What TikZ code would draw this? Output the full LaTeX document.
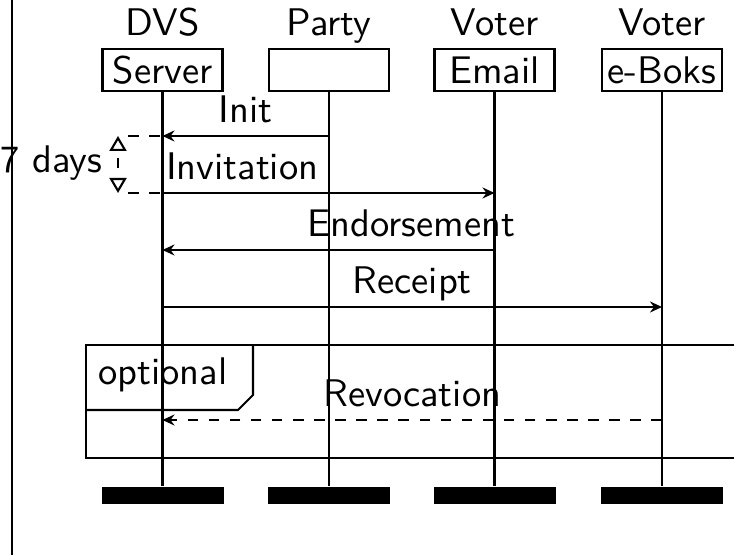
\documentclass[tikz,border=0pt,11pt]{standalone}
\usetikzlibrary{arrows.meta,positioning}

\begin{document}
\begin{tikzpicture}[
    line width=0.6pt,
    font=\sffamily,
    actor/.style={draw, minimum width=1.2cm, minimum height=0.42cm, inner sep=1pt},
    head/.style={anchor=base, inner sep=0pt},
    endbar/.style={fill=black, minimum width=1.22cm, minimum height=0.17cm, inner sep=0pt},
    msg/.style={-{Stealth[length=1.2mm, width=1.1mm, inset=0.4mm]}},
    rmsg/.style={msg, dashed},
    lbl/.style={above, text depth=0pt},
    span/.style={{Triangle[open, length=1.5mm, width=1.7mm]}-{Triangle[open, length=1.5mm, width=1.7mm]}, dash pattern=on 1mm off 1mm, dash phase=0.9mm}
]
\useasboundingbox (0,0) rectangle (7.34,5.55);
\clip (0,0) rectangle (7.34,5.55);

% outer frame edge
\draw (0.12,0) -- (0.12,5.55);

% actors
\node[actor] (S) at (1.625,4.85) {Server};
\node[actor] (P) at (3.29,4.85) {};
\node[actor] (E) at (4.945,4.85) {Email};
\node[actor] (B) at (6.62,4.85) {e-Boks};
\node[head] (St) at (1.625,5.19) {DVS};
\node[head] (Pt) at (3.29,5.19) {Party};
\node[head] (Et) at (4.945,5.19) {Voter};
\node[head] (Bt) at (6.62,5.19) {Voter};

% end bars
\node[endbar] (Sb) at (1.625,0.595) {};
\node[endbar] (Pb) at (3.29,0.595) {};
\node[endbar] (Eb) at (4.95,0.595) {};
\node[endbar] (Bb) at (6.615,0.595) {};

% lifelines
\draw (S) -- (S |- Sb.north);
\draw (P) -- (P |- Pb.north);
\draw (E) -- (E |- Eb.north);
\draw (B) -- (B |- Bb.north);

% message heights
\coordinate (yInit) at (0,4.19);
\coordinate (yInv) at (0,3.62);
\coordinate (yEnd) at (0,3.05);
\coordinate (yRec) at (0,2.48);
\coordinate (yRev) at (0,1.35);

\draw[msg] (P |- yInit) -- node[lbl] {Init} (S |- yInit);
\draw[msg] (S |- yInv) -- node[lbl, pos=0.24] {Invitation} (E |- yInv);
\draw[msg] (E |- yEnd) -- node[lbl, pos=0.25] {Endorsement} (S |- yEnd);
\draw[msg] (S |- yRec) -- node[lbl] {Receipt} (B |- yRec);

% 7 days
\coordinate (d1) at (1.28,4.19);
\coordinate (d2) at (1.28,3.62);
\draw[dashed] (d1) -- (S |- d1);
\draw[dashed] (d2) -- (S |- d2);
\coordinate (u1) at (1.18,4.19);
\coordinate (u2) at (1.18,3.62);
\draw[span] (u2) -- (u1);
\node[anchor=base east, inner sep=0pt] (days) at (1.03,3.82) {7 days};

% optional block
\draw (0.86,2.10) rectangle (7.6,0.97);
\draw (0.86,1.45) -- (2.38,1.45) -- (2.53,1.60) -- (2.53,2.10);
\node[anchor=base, inner sep=0pt] (opt) at (1.63,1.70) {optional};
\draw[rmsg] (B |- yRev) -- node[lbl] {Revocation} (S |- yRev);
\end{tikzpicture}
\end{document}
